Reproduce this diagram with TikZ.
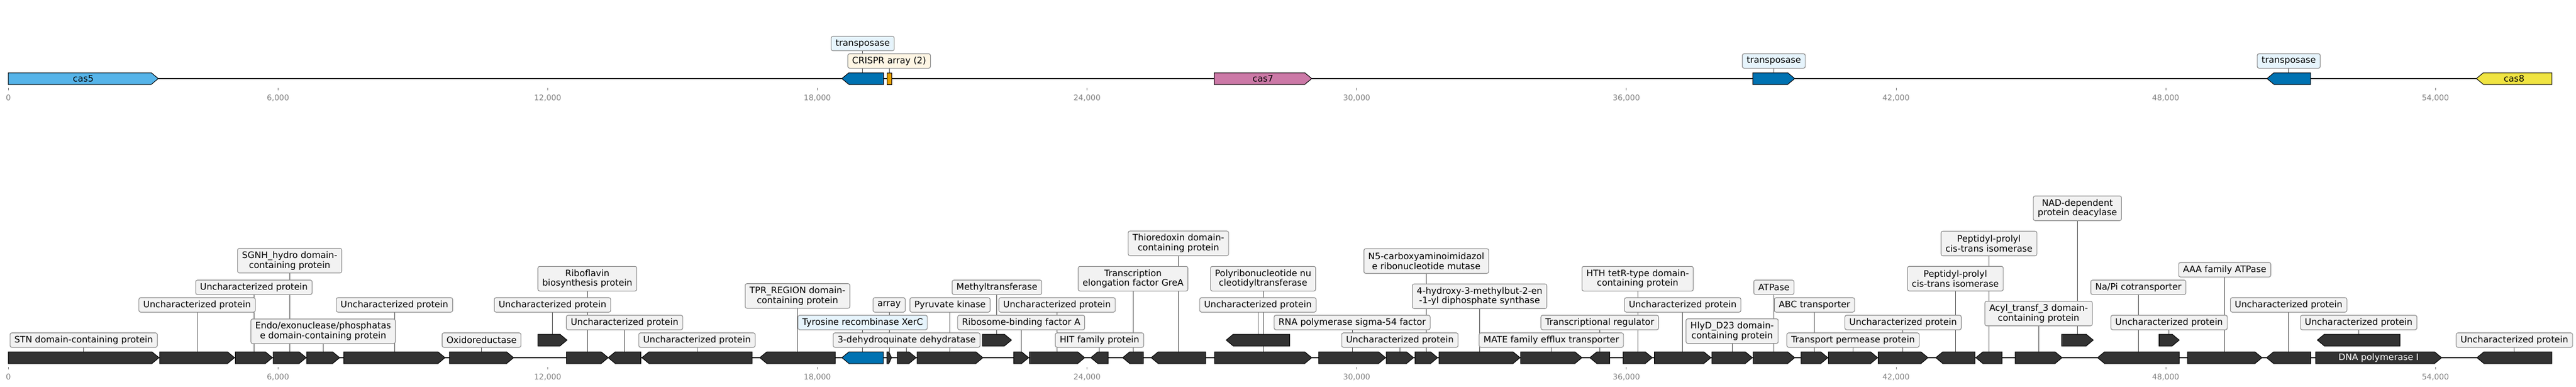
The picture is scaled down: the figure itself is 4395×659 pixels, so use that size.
\documentclass[tikz,border=0pt]{standalone}
\usepackage{fontspec}
\setmainfont{DejaVu Sans}
\usetikzlibrary{calc}
\pgfdeclarelayer{bg}
\pgfsetlayers{bg,main}
\definecolor{gdark}{HTML}{333333}
\definecolor{cblue}{HTML}{56B4E9}
\definecolor{tblue}{HTML}{0072B2}
\definecolor{corange}{HTML}{E69F00}
\definecolor{cpink}{HTML}{CC79A7}
\definecolor{cyellow}{HTML}{F0E442}
\definecolor{boxfill}{HTML}{F2F2F2}
\definecolor{boxline}{HTML}{8C8C8C}
\definecolor{boxblue}{HTML}{E6F4FC}
\definecolor{boxcream}{HTML}{FEF6E4}
\definecolor{connc}{HTML}{505050}
\definecolor{tickc}{HTML}{808080}
\tikzset{
  gene/.style={fill=gdark, draw=black, line width=1pt, line join=miter},
  track/.style={draw=black, line width=2.2pt},
  conn/.style={draw=connc, line width=0.9pt},
  lbl/.style={draw=boxline, line width=1.1pt, fill=boxfill, rounded corners=3pt,
    inner xsep=7.5pt, inner ysep=0pt, minimum height=24.6pt, align=center,
    font=\fontsize{15.2}{16.7}\selectfont},
  lbltwo/.style={lbl, minimum height=42pt},
  lblblue/.style={lbl, fill=boxblue},
  lblcream/.style={lbl, fill=boxcream},
  genetext/.style={font=\fontsize{15.2}{16.7}\selectfont, inner sep=0pt},
  ticklbl/.style={font=\fontsize{13.2}{14}\selectfont, text=tickc, anchor=north, inner sep=0pt, text height=9.6pt, text depth=0pt},
  tickmark/.style={draw=tickc, line width=0.8pt}
}
% right-pointing gene: name, x1, x2(tip), yc, style
\newcommand{\geneR}[5]{%
  \path[gene,#5] (#2,#4-10) -- (#3-12,#4-10) -- (#3,#4) -- (#3-12,#4+10) -- (#2,#4+10) -- cycle;
  \coordinate (#1) at ({(#2+#3)/2},#4-10);}
% left-pointing gene: name, x1(tip), x2, yc, style
\newcommand{\geneL}[5]{%
  \path[gene,#5] (#2,#4) -- (#2+12,#4-10) -- (#3,#4-10) -- (#3,#4+10) -- (#2+12,#4+10) -- cycle;
  \coordinate (#1) at ({(#2+#3)/2},#4-10);}
% label: gene name, y centre, style, text
\newcommand{\glab}[4]{%
  \path let \p1=(#1), \p2=(0,#2) in node[#3] (l#1) at (\x1,\y2) {#4};
  \begin{pgfonlayer}{bg}\draw[conn] (l#1.south) -- (#1);\end{pgfonlayer}}
\begin{document}
\begin{tikzpicture}[x=1pt,y=-1pt]
\begin{pgfonlayer}{bg}\fill[white] (0,0) rectangle (4395,659);\end{pgfonlayer}
\useasboundingbox (0,0) rectangle (4395,659);

% ---------------- top track ----------------
\coordinate (ts) at (14.2,134);
\coordinate (te) at (4353.7,134);
\begin{pgfonlayer}{bg}\draw[track] (ts) -- (te);\end{pgfonlayer}
\foreach \k/\t in {0/0,1/{6,000},2/{12,000},3/{18,000},4/{24,000},5/{30,000},6/{36,000},7/{42,000},8/{48,000},9/{54,000}}{
  \draw[tickmark] (14.2+460.1*\k,149.5) -- (14.2+460.1*\k,154);
  \node[ticklbl] (tt\k) at (14.2+460.1*\k,162) {\t};
}
\geneR{cas5}{14.2}{270}{134}{fill=cblue}
\node[genetext] (tcas5) at (cas5) [yshift=-10pt] {cas5};
\geneL{tra1}{1436.3}{1507.4}{134}{fill=tblue}
\path[gene,fill=corange] (1513,124) rectangle (1521,144);
\coordinate (crispr) at (1517,124);
\geneR{cas7}{2071.7}{2238}{134}{fill=cpink}
\node[genetext] (tcas7) at (cas7) [yshift=-10pt] {cas7};
\geneR{tra2}{2990.6}{3062}{134}{fill=tblue}
\geneL{tra3}{3867.7}{3942}{134}{fill=tblue}
\geneL{cas8}{4225}{4353.7}{134}{fill=cyellow}
\node[genetext] (tcas8) at (cas8) [yshift=-10pt] {cas8};
\glab{tra1}{74.3}{lblblue}{transposase}
\glab{crispr}{104}{lblcream}{CRISPR array (2)}
\glab{tra2}{104}{lblblue}{transposase}
\glab{tra3}{104}{lblblue}{transposase}

% ---------------- bottom track ----------------
\coordinate (bs) at (14.2,610);
\coordinate (be) at (4353.7,610);
\begin{pgfonlayer}{bg}\draw[track] (bs) -- (be);\end{pgfonlayer}
\foreach \k/\t in {0/0,1/{6,000},2/{12,000},3/{18,000},4/{24,000},5/{30,000},6/{36,000},7/{42,000},8/{48,000},9/{54,000}}{
  \draw[tickmark] (14.2+460.1*\k,625.5) -- (14.2+460.1*\k,630);
  \node[ticklbl] (bt\k) at (14.2+460.1*\k,637.3) {\t};
}
\geneR{g1}{14.2}{271.3}{610}{}
\geneR{g2}{272.3}{400.2}{610}{}
\geneR{g3}{401.6}{464.8}{610}{}
\geneR{g4}{466}{522.4}{610}{}
\geneR{g5}{523}{579.5}{610}{}
\geneR{g6}{586.6}{759.3}{610}{}
\geneR{g7}{766.8}{876.3}{610}{}
\geneR{g8}{917.8}{967.4}{580}{}
\geneR{g9}{966.4}{1037.7}{610}{}
\geneL{g10}{1037.7}{1093.4}{610}{}
\geneL{g11}{1095.2}{1283}{610}{}
\geneL{g12}{1296.3}{1425}{610}{}
\geneL{g13}{1436.4}{1507.2}{610}{fill=tblue}
\path[gene] (1513,600) -- (1516.5,600) -- (1521,610) -- (1516.5,620) -- (1513,620) -- cycle;
\coordinate (g14) at (1517,600);
\geneR{g15}{1530.8}{1562.9}{610}{}
\geneR{g16}{1564.8}{1677}{610}{}
\geneR{g17}{1676.1}{1725.7}{580}{}
\geneR{g18}{1729.5}{1755}{610}{}
\geneR{g19}{1756.3}{1850.7}{610}{}
\geneL{g20}{1861}{1890.8}{610}{}
\geneL{g21}{1915.4}{1950.8}{610}{}
\geneL{g22}{1964}{2057}{610}{}
\geneR{g23}{2072}{2238}{610}{}
\geneL{g24}{2092}{2200.3}{580}{}
\geneR{g25}{2249.9}{2364}{610}{}
\geneR{g26}{2365}{2411.7}{610}{}
\geneR{g27}{2414}{2452.8}{610}{}
\geneR{g28}{2455.2}{2593.4}{610}{}
\geneR{g29}{2594.4}{2699}{610}{}
\geneL{g30}{2712.4}{2746.3}{610}{}
\geneR{g31}{2769}{2819}{610}{}
\geneR{g32}{2822.7}{2919}{610}{}
\geneR{g33}{2920.8}{2989.7}{610}{}
\geneR{g34}{2991}{3062}{610}{}
\geneR{g35}{3072.8}{3118.5}{610}{}
\geneR{g36}{3119.5}{3203.5}{610}{}
\geneR{g37}{3204.4}{3289.4}{610}{}
\geneL{g38}{3302.6}{3369.6}{610}{}
\geneL{g39}{3371}{3415.8}{610}{}
\geneR{g40}{3438}{3518.2}{610}{}
\geneR{g41}{3517.3}{3571.3}{580}{}
\geneL{g42}{3578.6}{3718}{610}{}
\geneR{g43}{3683.5}{3718}{580}{}
\geneR{g44}{3732}{3859.3}{610}{}
\geneL{g45}{3867}{3942.4}{610}{}
\geneR{g46}{3950.8}{4165.7}{610}{}
\node[genetext, text=white] (tg46) at (g46) [yshift=-10pt] {DNA polymerase I};
\geneL{g47}{3953.6}{4094.8}{580}{}
\geneL{g48}{4225.9}{4353.7}{610}{}

\glab{g1}{580}{lbl}{STN domain-containing protein}
\glab{g2}{520}{lbl}{Uncharacterized protein}
\glab{g3}{490}{lbl}{Uncharacterized protein}
\glab{g4}{444.5}{lbltwo}{SGNH\_hydro domain-\\containing protein}
\glab{g5}{565}{lbltwo}{Endo/exonuclease/phosphatas\\e domain-containing protein}
\glab{g6}{520}{lbl}{Uncharacterized protein}
\glab{g7}{580}{lbl}{Oxidoreductase}
\glab{g8}{520}{lbl}{Uncharacterized protein}
\glab{g9}{475.3}{lbltwo}{Riboflavin\\biosynthesis protein}
\glab{g10}{550}{lbl}{Uncharacterized protein}
\glab{g11}{580}{lbl}{Uncharacterized protein}
\glab{g12}{504.7}{lbltwo}{TPR\_REGION domain-\\containing protein}
\glab{g13}{550}{lblblue}{Tyrosine recombinase XerC}
\glab{g14}{520}{lbl}{array}
\glab{g15}{580}{lbl}{3-dehydroquinate dehydratase}
\glab{g16}{520}{lbl}{Pyruvate kinase}
\glab{g17}{490}{lbl}{Methyltransferase}
\glab{g18}{550}{lbl}{Ribosome-binding factor A}
\glab{g19}{520}{lbl}{Uncharacterized protein}
\glab{g20}{580}{lbl}{HIT family protein}
\glab{g21}{475.3}{lbltwo}{Transcription\\elongation factor GreA}
\glab{g22}{415}{lbltwo}{Thioredoxin domain-\\containing protein}
\glab{g23}{475.3}{lbltwo}{Polyribonucleotide nu\\cleotidyltransferase}
\glab{g24}{520}{lbl}{Uncharacterized protein}
\glab{g25}{550}{lbl}{RNA polymerase sigma-54 factor}
\glab{g26}{580}{lbl}{Uncharacterized protein}
\glab{g27}{445.2}{lbltwo}{N5-carboxyaminoimidazol\\e ribonucleotide mutase}
\glab{g28}{505.2}{lbltwo}{4-hydroxy-3-methylbut-2-en\\-1-yl diphosphate synthase}
\glab{g29}{580}{lbl}{MATE family efflux transporter}
\glab{g30}{550}{lbl}{Transcriptional regulator}
\glab{g31}{475.3}{lbltwo}{HTH tetR-type domain-\\containing protein}
\glab{g32}{520}{lbl}{Uncharacterized protein}
\glab{g33}{564.7}{lbltwo}{HlyD\_D23 domain-\\containing protein}
\glab{g34}{490}{lbl}{ATPase}
\glab{g35}{520}{lbl}{ABC transporter}
\glab{g36}{580}{lbl}{Transport permease protein}
\glab{g37}{550}{lbl}{Uncharacterized protein}
\glab{g38}{475.2}{lbltwo}{Peptidyl-prolyl\\cis-trans isomerase}
\glab{g39}{415.2}{lbltwo}{Peptidyl-prolyl\\cis-trans isomerase}
\glab{g40}{534.7}{lbltwo}{Acyl\_transf\_3 domain-\\containing protein}
\glab{g41}{355.2}{lbltwo}{NAD-dependent\\protein deacylase}
\glab{g42}{490}{lbl}{Na/Pi cotransporter}
\glab{g43}{550}{lbl}{Uncharacterized protein}
\glab{g44}{460}{lbl}{AAA family ATPase}
\glab{g45}{520}{lbl}{Uncharacterized protein}
\glab{g47}{550}{lbl}{Uncharacterized protein}
\glab{g48}{580}{lbl}{Uncharacterized protein}
\end{tikzpicture}
\end{document}
